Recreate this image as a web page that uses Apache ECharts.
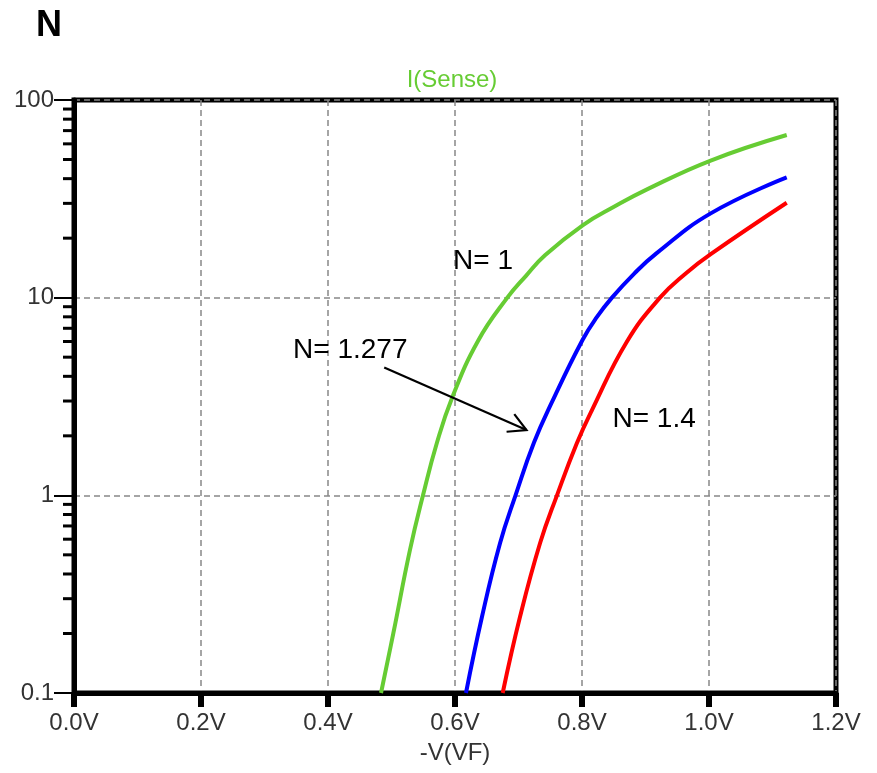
<!DOCTYPE html>
<html>
<head>
<meta charset="utf-8">
<script src="https://cdn.jsdelivr.net/npm/echarts@6/dist/echarts.min.js"></script>
<style>
html,body{margin:0;padding:0;background:#fff;}
#chart{width:877px;height:773px;}
</style>
</head>
<body>
<div id="chart"></div>
<script>
// ---- data ----
const xTicks = [0, 0.2, 0.4, 0.6, 0.8, 1.0, 1.2];
const yTicks = [0.1, 1, 10, 100];
const yMinorTicks = [0.2,0.3,0.4,0.5,0.6,0.7,0.8,0.9, 2,3,4,5,6,7,8,9, 20,30,40,50,60,70,80,90];

const vN1    = [0.4835, 0.5028, 0.5291, 0.5496, 0.5712, 0.5953, 0.6362, 0.6824, 0.7118, 0.7417, 0.8016, 0.8504, 0.9008, 1.0027, 1.1224];
const iN1    = [0.1,    0.2,    0.53,   1.0,    1.83,   3.11,   6.04,   10.0,   12.9,   16.4,   23.3,   28.8,   35.1,   49.4,   66.5];

const vN1277 = [0.6173, 0.6425, 0.6709, 0.6953, 0.7244, 0.7528, 0.8008, 0.8236, 0.8472, 0.8819, 0.9176, 1.0027, 1.1224];
const iN1277 = [0.1,    0.243,  0.572,  1.0,    1.85,   2.97,   6.11,   7.99,   10.0,   13.2,   16.8,   26.7,   40.6];

const vN14   = [0.6751, 0.7024, 0.7339, 0.7606, 0.7917, 0.8157, 0.8704, 0.9228, 0.9638, 1.0027, 1.1224];
const iN14   = [0.1,    0.243,  0.572,  1.0,    1.83,   2.70,   5.97,   10.0,   13.3,   16.6,   30.2];

const labelTexts = ['N= 1', 'N= 1.277', 'N= 1.4'];
const labelAt    = [[0.597, 15.2], [0.345, 5.44], [0.848, 2.43]];
const arrowFrom  = [0.4885, 4.43];
const arrowTo    = [0.7126, 2.14];

// ---- build ----
const zip = (a, b) => a.map((v, i) => [v, b[i]]);
const FONT = '"Liberation Sans", Arial, sans-serif';

const chart = echarts.init(document.getElementById('chart'), null, {renderer: 'canvas'});

const curve = (name, data, color) => ({
  name, type: 'line', data, showSymbol: false, symbol: 'none',
  smooth: 0.45,
  lineStyle: {color, width: 4}, z: 5, animation: false
});

const option = {
  animation: false,
  backgroundColor: '#fff',
  title: {
    text: 'N', left: 31, top: 3,
    textStyle: {fontFamily: FONT, fontSize: 36, fontWeight: 'bold', color: '#000'}
  },
  graphic: [{
    type: 'text', x: 452, y: 80,
    style: {text: 'I(Sense)', fill: '#66cc33', font: '24px ' + FONT, align: 'center', verticalAlign: 'middle'}
  }],
  grid: {
    left: 74, right: 41, top: 100, bottom: 80,
    show: true, borderColor: '#000', borderWidth: 5, backgroundColor: 'transparent'
  },
  xAxis: {
    type: 'value', min: 0, max: 1.2, interval: 0.2,
    name: '-V(VF)', nameLocation: 'middle', nameGap: 48,
    nameTextStyle: {fontFamily: FONT, fontSize: 24, color: '#333'},
    axisLine: {show: true, lineStyle: {color: '#000', width: 5}},
    axisTick: {show: true, length: 14, lineStyle: {color: '#000', width: 6}},
    axisLabel: {
      margin: 18, fontFamily: FONT, fontSize: 24, color: '#333',
      showMinLabel: true, showMaxLabel: true,
      formatter: v => v.toFixed(1) + 'V'
    },
    splitLine: {show: true, lineStyle: {color: '#888', width: 1.5, type: [6, 4]}}
  },
  yAxis: {
    type: 'log', logBase: 10, min: 0.1, max: 100,
    axisLine: {show: true, lineStyle: {color: '#000', width: 5}},
    axisTick: {show: true, length: 20, lineStyle: {color: '#000', width: 2}},
    axisLabel: {
      margin: 20, fontFamily: FONT, fontSize: 24, color: '#333',
      showMinLabel: true, showMaxLabel: true,
      formatter: v => {
        const t = yTicks.find(k => Math.abs(Math.log10(k) - Math.log10(v)) < 1e-6);
        return t !== undefined ? String(t) : '';
      }
    },
    splitLine: {show: true, lineStyle: {color: '#888', width: 1.5, type: [6, 4]}}
  },
  series: [
    curve('N=1', zip(vN1, iN1), '#66cc33'),
    curve('N=1.277', zip(vN1277, iN1277), '#0000ff'),
    curve('N=1.4', zip(vN14, iN14), '#ff0000'),
    {
      name: 'minorTicks', type: 'custom', clip: false, silent: true, z: 6,
      data: yMinorTicks.map(v => [xTicks[0], v]),
      renderItem: (params, api) => {
        const p = api.coord([api.value(0), api.value(1)]);
        return {type: 'line', shape: {x1: p[0] - 2, y1: p[1], x2: p[0] - 11, y2: p[1]},
                style: {stroke: '#000', lineWidth: 3}};
      }
    },
    {
      name: 'labels', type: 'custom', clip: false, silent: true, z: 7,
      data: labelAt.map((c, i) => [c[0], c[1], i]),
      renderItem: (params, api) => {
        const p = api.coord([api.value(0), api.value(1)]);
        return {type: 'text', x: p[0], y: p[1],
                style: {text: labelTexts[api.value(2)], fill: '#000', font: '28px ' + FONT,
                        align: 'left', verticalAlign: 'middle'}};
      }
    },
    {
      name: 'arrow', type: 'custom', clip: false, silent: true, z: 7,
      data: [[arrowFrom[0], arrowFrom[1], arrowTo[0], arrowTo[1]]],
      renderItem: (params, api) => {
        const a = api.coord([api.value(0), api.value(1)]);
        const b = api.coord([api.value(2), api.value(3)]);
        const ang = Math.atan2(b[1] - a[1], b[0] - a[0]);
        const L = 20, s = 0.5;
        const h1 = [b[0] - L * Math.cos(ang - s), b[1] - L * Math.sin(ang - s)];
        const h2 = [b[0] - L * Math.cos(ang + s), b[1] - L * Math.sin(ang + s)];
        return {type: 'group', children: [
          {type: 'line', shape: {x1: a[0], y1: a[1], x2: b[0], y2: b[1]}, style: {stroke: '#000', lineWidth: 2.2}},
          {type: 'polyline', shape: {points: [h1, b, h2]}, style: {stroke: '#000', lineWidth: 2.2, fill: null}}
        ]};
      }
    }
  ]
};
chart.setOption(option);
</script>
</body>
</html>
